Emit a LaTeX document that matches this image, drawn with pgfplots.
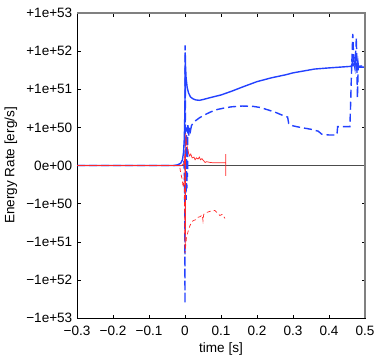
\documentclass[border=0pt]{standalone}
\usepackage{fontspec}
\setmainfont{Liberation Sans}
\usepackage{pgfplots}
\pgfplotsset{compat=1.18}
\definecolor{mblue}{RGB}{35,65,255}
\definecolor{mred}{RGB}{255,40,40}
\begin{document}
\fontsize{13.6}{16}\selectfont
\begin{tikzpicture}
\begin{axis}[
  name=ax,
  scale only axis, width=288bp, height=305bp,
  xmin=-0.3, xmax=0.5, ymin=-4, ymax=4,
  xtick={-0.3,-0.2,-0.1,0,0.1,0.2,0.3,0.4,0.5},
  xticklabels={−0.3,−0.2,−0.1,0,0.1,0.2,0.3,0.4,0.5},
  ytick={-4,-3,-2,-1,0,1,2,3,4},
  yticklabels={−1e+53,−1e+52,−1e+51,−1e+50,0e+00,+1e+50,+1e+51,+1e+52,+1e+53},
  xticklabel style={yshift=-3bp},
  tick align=inside, major tick length=3.5bp,
  tick style={black, line width=0.5pt},
  axis line style={black, line width=0.6pt},
  xlabel={time [s]}, ylabel={Energy Rate [erg/s]},
  xlabel style={yshift=2bp},
  clip=false,
]
% zero line
\addplot[gray!60!black, line width=0.9pt] coordinates {(-0.3,0) (0.5,0)};
% blue dashed
\addplot[mblue, line width=1.4bp, dash pattern=on 8bp off 4bp] coordinates {
(-0.3,0) (-0.01,0) (-0.003,0.1) (-0.001,-0.4) (0,-3.62) (0.0004,3.15) (0.0015,0.6)
(0.003,-0.9) (0.004,1.0) (0.005,-0.6) (0.006,0.8) (0.007,-0.3) (0.008,1.1) (0.01,0.75)
(0.012,1.0) (0.015,0.9) (0.018,1.05) (0.022,1.1) (0.03,1.18) (0.04,1.25) (0.055,1.33)
(0.07,1.4) (0.09,1.47) (0.11,1.51) (0.13,1.54) (0.16,1.56) (0.19,1.55) (0.21,1.52)
(0.23,1.46) (0.25,1.4) (0.27,1.32) (0.285,1.27) (0.288,1.1) (0.3,1.04) (0.32,1.0)
(0.35,0.95) (0.37,0.9) (0.38,0.82) (0.4,0.8) (0.422,0.8) (0.424,1.02) (0.458,1.02)
(0.46,1.6) (0.462,2.3) (0.466,3.45) (0.469,2.7) (0.472,2.55) (0.476,3.35) (0.478,2.3)
(0.479,1.78) (0.481,2.6) (0.5,2.62)};
% blue solid
\addplot[mblue, line width=1.4bp] coordinates {
(-0.3,0) (-0.03,0) (-0.02,0.02) (-0.012,0.06) (-0.007,0.15) (-0.004,0.35) (-0.002,0.7)
(-0.001,1.1) (0,1.8) (0.0008,2.9) (0.0015,2.6) (0.003,2.3) (0.006,2.05) (0.01,1.9)
(0.015,1.8) (0.022,1.75) (0.03,1.72) (0.04,1.71) (0.05,1.73) (0.07,1.78) (0.1,1.85)
(0.13,1.95) (0.16,2.06) (0.2,2.2) (0.24,2.3) (0.28,2.38) (0.3,2.43) (0.33,2.48)
(0.36,2.53) (0.4,2.56) (0.43,2.58) (0.46,2.6) (0.463,2.62) (0.465,2.72) (0.467,2.62)
(0.47,2.64) (0.473,2.8) (0.476,2.55) (0.478,2.62) (0.48,2.75) (0.482,2.58) (0.5,2.58)};
% red dashed
\addplot[mred, line width=0.7bp, dash pattern=on 4bp off 3bp] coordinates {
(-0.3,0) (-0.015,0) (-0.012,-0.2) (-0.008,-0.35) (-0.005,-0.58) (-0.002,-0.3) (0,-2.3)
(0.004,-1.9) (0.008,-1.75) (0.014,-1.57) (0.018,-1.5) (0.022,-1.45) (0.03,-1.42)
(0.036,-1.36) (0.042,-1.34) (0.048,-1.3) (0.05,-1.45) (0.052,-1.28) (0.061,-1.23)
(0.07,-1.2) (0.083,-1.18) (0.09,-1.25) (0.097,-1.31) (0.104,-1.28) (0.111,-1.39)};
% red solid
\addplot[mred, line width=0.7bp] coordinates {
(-0.3,0) (-0.01,0) (-0.002,0.05) (0,0.3) (0.001,-2.2) (0.0018,0.84) (0.004,0.6)
(0.007,0.45) (0.01,0.32) (0.013,0.25) (0.016,0.3) (0.02,0.2) (0.025,0.22) (0.028,0.15)
(0.032,0.2) (0.036,0.17) (0.04,0.22) (0.043,0.15) (0.047,0.18) (0.052,0.12) (0.056,0.08)
(0.06,0.1) (0.07,0.08) (0.08,0.07) (0.09,0.07) (0.1,0.07) (0.113,0.07) (0.113,0.3)
(0.113,-0.27)};
\draw[gray, line width=1.6bp] (rel axis cs:0,1) -- (rel axis cs:1,1) -- (rel axis cs:1,0);
\end{axis}
\pgfresetboundingbox
\path[use as bounding box] ([shift={(-77bp,-41bp)}]ax.south west) rectangle ([shift={(14bp,13bp)}]ax.north east);
\end{tikzpicture}
\end{document}
